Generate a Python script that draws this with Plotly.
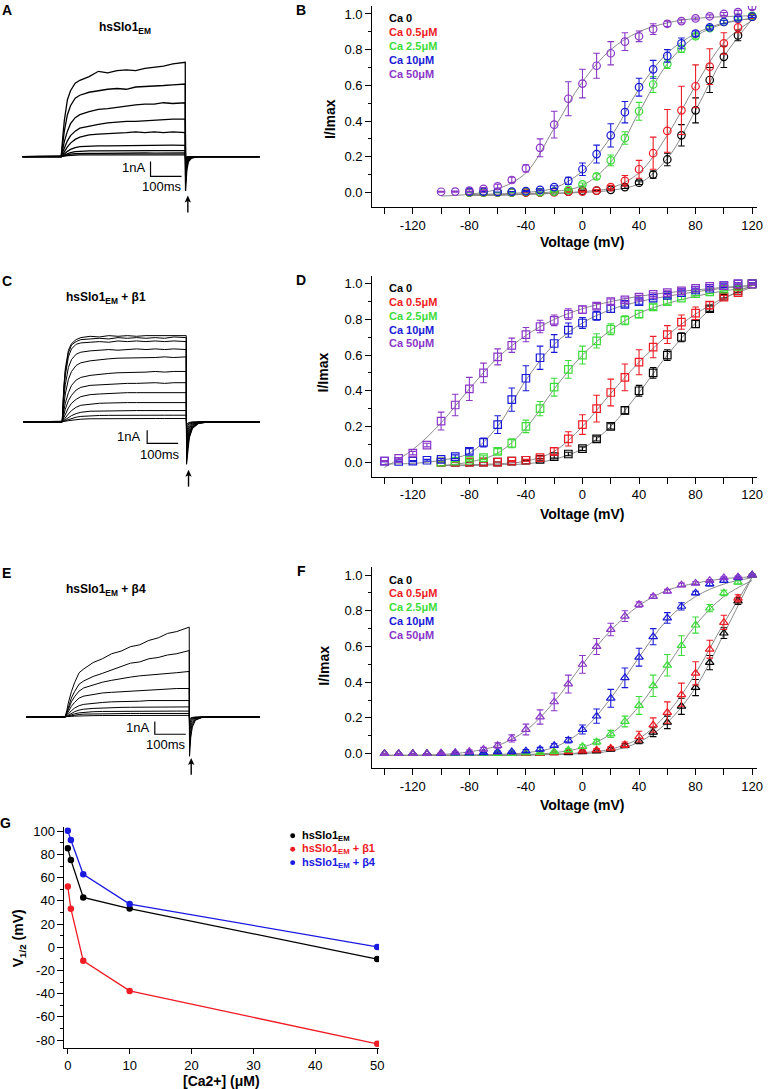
import plotly.graph_objects as go

W, H = 774, 1089
FONT = "Liberation Sans, Arial, Helvetica, sans-serif"

# ---------------- colours ----------------
ca_colors = ["#000000", "#ee1c25", "#3ddc3a", "#1a1ad6", "#8a36c8"]
fit_color = "#8a8a8a"
g_colors = ["#000000", "#ee1c25", "#1a1ae0"]

# ---------------- A, C, E : current traces (nA) ----------------
# sample times (ms); depolarising pulse from 0 to 400 ms
t_ms = [-125, 0, 5, 10, 20, 30, 45, 60, 90, 120, 150, 180, 210, 240, 270, 300, 330, 360, 400,
        401, 405, 410, 420, 440, 470, 640]

cur_A = [
    [0, 0, 1.3, 2.4, 3.8, 4.4, 4.9, 5.1, 5.35, 5.7, 5.6, 5.75, 5.8, 5.75, 5.9, 5.95, 6.05, 6.2, 6.3, -2.3, -0.9, -0.35, -0.1, 0, 0, 0],
    [0, 0, 0.9, 1.7, 2.8, 3.4, 3.9, 4.1, 4.3, 4.4, 4.5, 4.55, 4.5, 4.65, 4.7, 4.7, 4.75, 4.8, 4.85, -1.8, -0.7, -0.25, -0.08, 0, 0, 0],
    [0, 0, 0.5, 1.0, 1.7, 2.2, 2.6, 2.8, 3.0, 3.15, 3.2, 3.3, 3.35, 3.45, 3.5, 3.5, 3.6, 3.55, 3.6, -1.3, -0.5, -0.18, -0.05, 0, 0, 0],
    [0, 0, 0.3, 0.6, 1.05, 1.4, 1.7, 1.9, 2.05, 2.15, 2.25, 2.3, 2.35, 2.35, 2.4, 2.45, 2.45, 2.5, 2.5, -0.9, -0.35, -0.12, -0.04, 0, 0, 0],
    [0, 0, 0.15, 0.35, 0.65, 0.9, 1.15, 1.3, 1.45, 1.5, 1.55, 1.6, 1.6, 1.65, 1.6, 1.65, 1.6, 1.65, 1.6, -0.6, -0.22, -0.08, -0.03, 0, 0, 0],
    [0, 0, 0.08, 0.18, 0.35, 0.48, 0.6, 0.66, 0.7, 0.72, 0.72, 0.73, 0.74, 0.74, 0.75, 0.74, 0.75, 0.76, 0.75, -0.3, -0.1, -0.04, 0, 0, 0, 0],
    [0, 0, 0.04, 0.1, 0.2, 0.27, 0.33, 0.36, 0.38, 0.38, 0.39, 0.39, 0.4, 0.39, 0.4, 0.4, 0.4, 0.41, 0.4, -0.18, -0.06, -0.02, 0, 0, 0, 0],
    [0, 0, 0.02, 0.06, 0.12, 0.16, 0.19, 0.21, 0.22, 0.22, 0.23, 0.23, 0.23, 0.23, 0.24, 0.23, 0.24, 0.24, 0.24, -0.1, -0.04, -0.01, 0, 0, 0, 0],
    [0, 0, 0.01, 0.03, 0.06, 0.08, 0.1, 0.11, 0.11, 0.12, 0.12, 0.12, 0.12, 0.12, 0.12, 0.12, 0.12, 0.12, 0.12, -0.05, -0.02, 0, 0, 0, 0, 0],
]

cur_C = [
    [0, 0, 2.6, 4.0, 5.4, 5.9, 6.2, 6.35, 6.45, 6.4, 6.5, 6.45, 6.5, 6.45, 6.5, 6.5, 6.45, 6.5, 6.5, -3.2, -2.0, -1.2, -0.5, -0.12, -0.02, 0],
    [0, 0, 2.4, 3.8, 5.2, 5.8, 6.05, 6.2, 6.25, 6.3, 6.25, 6.35, 6.3, 6.35, 6.3, 6.35, 6.3, 6.4, 6.35, -3.0, -1.8, -1.1, -0.45, -0.1, -0.02, 0],
    [0, 0, 2.2, 3.5, 4.9, 5.5, 5.85, 5.95, 6.0, 6.05, 6.0, 6.1, 6.05, 6.1, 6.05, 6.1, 6.05, 6.1, 6.05, -2.8, -1.7, -1.0, -0.4, -0.1, -0.02, 0],
    [0, 0, 1.7, 2.8, 4.1, 4.7, 5.1, 5.25, 5.35, 5.4, 5.45, 5.4, 5.45, 5.5, 5.45, 5.5, 5.45, 5.5, 5.45, -2.5, -1.5, -0.9, -0.35, -0.08, -0.01, 0],
    [0, 0, 1.2, 2.1, 3.2, 3.8, 4.25, 4.45, 4.6, 4.7, 4.75, 4.8, 4.8, 4.85, 4.8, 4.85, 4.9, 4.85, 4.9, -2.2, -1.3, -0.75, -0.3, -0.07, 0, 0],
    [0, 0, 0.8, 1.4, 2.2, 2.75, 3.15, 3.35, 3.5, 3.6, 3.65, 3.7, 3.7, 3.75, 3.75, 3.8, 3.75, 3.8, 3.8, -1.8, -1.05, -0.6, -0.22, -0.05, 0, 0],
    [0, 0, 0.5, 0.95, 1.6, 2.0, 2.4, 2.6, 2.75, 2.8, 2.85, 2.9, 2.9, 2.9, 2.95, 2.95, 2.9, 2.95, 2.95, -1.4, -0.8, -0.45, -0.17, -0.04, 0, 0],
    [0, 0, 0.3, 0.6, 1.05, 1.4, 1.7, 1.9, 2.05, 2.1, 2.15, 2.15, 2.2, 2.2, 2.2, 2.2, 2.2, 2.25, 2.2, -1.1, -0.6, -0.33, -0.12, -0.03, 0, 0],
    [0, 0, 0.15, 0.32, 0.6, 0.85, 1.1, 1.25, 1.35, 1.4, 1.42, 1.45, 1.45, 1.45, 1.45, 1.45, 1.45, 1.45, 1.45, -0.8, -0.42, -0.23, -0.08, -0.02, 0, 0],
    [0, 0, 0.08, 0.17, 0.33, 0.47, 0.62, 0.72, 0.8, 0.82, 0.84, 0.85, 0.85, 0.85, 0.85, 0.85, 0.85, 0.85, 0.85, -0.5, -0.26, -0.14, -0.05, -0.01, 0, 0],
    [0, 0, 0.04, 0.09, 0.18, 0.26, 0.35, 0.41, 0.46, 0.48, 0.49, 0.5, 0.5, 0.5, 0.5, 0.5, 0.5, 0.5, 0.5, -0.3, -0.16, -0.08, -0.03, 0, 0, 0],
    [0, 0, 0.02, 0.04, 0.09, 0.13, 0.17, 0.2, 0.23, 0.24, 0.25, 0.25, 0.25, 0.25, 0.25, 0.25, 0.25, 0.25, 0.25, -0.15, -0.08, -0.04, -0.01, 0, 0, 0],
]

cur_E = [
    [0, 0, 0.5, 1.1, 2.0, 2.7, 3.5, 3.8, 4.3, 4.6, 5.0, 5.2, 5.55, 5.7, 6.05, 6.25, 6.6, 6.75, 7.1, -3.1, -1.6, -0.8, -0.25, -0.05, 0, 0],
    [0, 0, 0.35, 0.8, 1.5, 2.0, 2.6, 2.85, 3.2, 3.45, 3.7, 3.95, 4.25, 4.35, 4.6, 4.7, 4.9, 5.0, 5.25, -2.5, -1.3, -0.65, -0.2, -0.04, 0, 0],
    [0, 0, 0.3, 0.65, 1.2, 1.6, 2.05, 2.3, 2.55, 2.75, 2.9, 3.05, 3.15, 3.25, 3.3, 3.4, 3.45, 3.5, 3.6, -1.9, -1.0, -0.5, -0.15, -0.03, 0, 0],
    [0, 0, 0.2, 0.45, 0.85, 1.15, 1.5, 1.65, 1.8, 1.9, 1.95, 2.0, 2.05, 2.1, 2.15, 2.15, 2.2, 2.25, 2.25, -1.3, -0.7, -0.35, -0.1, -0.02, 0, 0],
    [0, 0, 0.1, 0.25, 0.5, 0.7, 0.9, 1.0, 1.1, 1.15, 1.2, 1.2, 1.25, 1.25, 1.3, 1.3, 1.3, 1.3, 1.3, -0.9, -0.45, -0.22, -0.07, -0.01, 0, 0],
    [0, 0, 0.06, 0.14, 0.3, 0.42, 0.55, 0.62, 0.68, 0.72, 0.74, 0.76, 0.77, 0.78, 0.78, 0.79, 0.8, 0.8, 0.8, -0.6, -0.3, -0.15, -0.05, 0, 0, 0],
    [0, 0, 0.03, 0.08, 0.17, 0.25, 0.33, 0.38, 0.42, 0.44, 0.45, 0.46, 0.46, 0.47, 0.47, 0.47, 0.47, 0.47, 0.47, -0.4, -0.2, -0.1, -0.03, 0, 0, 0],
    [0, 0, 0.02, 0.05, 0.1, 0.15, 0.2, 0.23, 0.25, 0.26, 0.27, 0.27, 0.28, 0.28, 0.28, 0.28, 0.28, 0.28, 0.28, -0.25, -0.12, -0.06, -0.02, 0, 0, 0],
    [0, 0, 0.01, 0.02, 0.05, 0.07, 0.09, 0.1, 0.11, 0.12, 0.12, 0.13, 0.13, 0.13, 0.13, 0.13, 0.13, 0.13, 0.13, -0.12, -0.06, -0.03, -0.01, 0, 0, 0],
]

bar_nA = 1      # scale bar height
bar_ms = 100    # scale bar width

# ---------------- B, D, F : normalised G-V ----------------
ca_names = ["Ca 0", "Ca 0.5μM", "Ca 2.5μM", "Ca 10μM", "Ca 50μM"]

v_B = [-100, -90, -80, -70, -60, -50, -40, -30, -20, -10, 0, 10, 20, 30, 40, 50, 60, 70, 80, 90, 100, 110, 120]
b_ca0 = [None, None, 0.0, 0.0, 0.0, 0.0, 0.0, 0.0, 0.005, 0.005, 0.01, 0.01, 0.015, 0.03, 0.055, 0.1, 0.185, 0.32, 0.46, 0.63, 0.76, 0.88, 0.985]
b_ca05 = [None, None, 0.0, 0.0, 0.0, 0.0, 0.0, 0.0, 0.0, 0.005, 0.005, 0.01, 0.03, 0.065, 0.13, 0.22, 0.345, 0.46, 0.595, 0.705, 0.835, 0.925, 0.985]
b_ca25 = [None, None, 0.0, 0.0, 0.0, 0.0, 0.005, 0.002, 0.005, 0.015, 0.045, 0.09, 0.18, 0.305, 0.455, 0.605, 0.72, 0.805, 0.875, 0.92, 0.955, 0.98, 0.99]
b_ca10 = [None, None, 0.005, 0.005, 0.003, 0.005, 0.008, 0.015, 0.03, 0.065, 0.13, 0.215, 0.32, 0.45, 0.59, 0.69, 0.765, 0.835, 0.89, 0.925, 0.955, 0.975, 0.985]
b_ca50 = [0.004, 0.005, 0.01, 0.02, 0.035, 0.07, 0.135, 0.25, 0.38, 0.525, 0.61, 0.71, 0.78, 0.845, 0.875, 0.915, 0.945, 0.96, 0.975, 0.987, 1.0, 1.01, 1.04]
b_ca0_err = [None, None, 0, 0, 0, 0, 0, 0, 0, 0, 0.003, 0.003, 0.005, 0.008, 0.01, 0.02, 0.035, 0.06, 0.07, 0.07, 0.06, 0.03, 0.01]
b_ca05_err = [None, None, 0, 0, 0, 0, 0, 0, 0, 0.003, 0.003, 0.005, 0.01, 0.03, 0.05, 0.09, 0.12, 0.135, 0.12, 0.1, 0.06, 0.03, 0.01]
b_ca25_err = [None, None, 0, 0, 0, 0, 0, 0, 0.003, 0.005, 0.008, 0.015, 0.03, 0.035, 0.05, 0.045, 0.025, 0.02, 0.015, 0.01, 0.01, 0.01, 0.01]
b_ca10_err = [None, None, 0, 0, 0, 0, 0.003, 0.005, 0.008, 0.02, 0.035, 0.05, 0.065, 0.06, 0.05, 0.05, 0.035, 0.03, 0.015, 0.01, 0.01, 0.01, 0.005]
b_ca50_err = [0.003, 0.003, 0.005, 0.008, 0.012, 0.015, 0.02, 0.05, 0.075, 0.095, 0.08, 0.07, 0.065, 0.05, 0.03, 0.03, 0.015, 0.01, 0.008, 0.008, 0.008, 0.01, 0.015]

v_DF = [-140, -130, -120, -110, -100, -90, -80, -70, -60, -50, -40, -30, -20, -10, 0, 10, 20, 30, 40, 50, 60, 70, 80, 90, 100, 110, 120]
d_ca0 = [None, None, None, None, 0.0, 0.0, 0.0, 0.0, 0.0, 0.005, 0.01, 0.015, 0.03, 0.045, 0.075, 0.13, 0.2, 0.29, 0.4, 0.5, 0.6, 0.7, 0.775, 0.86, 0.93, 0.96, 1.0]
d_ca05 = [None, None, None, None, 0.0, 0.0, 0.0, 0.0, 0.0, 0.005, 0.01, 0.025, 0.06, 0.13, 0.21, 0.3, 0.39, 0.475, 0.56, 0.645, 0.715, 0.785, 0.835, 0.88, 0.925, 0.95, 1.0]
d_ca25 = [None, None, None, None, 0.0, 0.005, 0.01, 0.025, 0.06, 0.105, 0.2, 0.3, 0.42, 0.52, 0.6, 0.68, 0.745, 0.795, 0.83, 0.87, 0.9, 0.92, 0.945, 0.955, 0.97, 0.985, 1.0]
d_ca10 = [0.005, 0.003, 0.005, 0.01, 0.015, 0.03, 0.06, 0.11, 0.21, 0.35, 0.47, 0.585, 0.665, 0.74, 0.78, 0.82, 0.86, 0.885, 0.9, 0.92, 0.935, 0.95, 0.965, 0.975, 0.99, 1.0, 1.0]
d_ca50 = [0.005, 0.02, 0.05, 0.095, 0.23, 0.32, 0.41, 0.5, 0.59, 0.655, 0.715, 0.76, 0.795, 0.83, 0.855, 0.875, 0.9, 0.91, 0.925, 0.94, 0.95, 0.96, 0.975, 0.985, 0.99, 1.0, 1.0]
d_ca0_err = [None, None, None, None, 0, 0, 0, 0, 0, 0.003, 0.003, 0.005, 0.008, 0.01, 0.01, 0.012, 0.015, 0.02, 0.03, 0.03, 0.03, 0.025, 0.02, 0.015, 0.01, 0.01, 0.005]
d_ca05_err = [None, None, None, None, 0, 0, 0, 0, 0, 0.003, 0.005, 0.008, 0.02, 0.04, 0.055, 0.075, 0.075, 0.075, 0.07, 0.06, 0.05, 0.04, 0.035, 0.02, 0.01, 0.01, 0.005]
d_ca25_err = [None, None, None, None, 0, 0.003, 0.005, 0.01, 0.015, 0.025, 0.035, 0.04, 0.05, 0.05, 0.05, 0.04, 0.03, 0.025, 0.02, 0.015, 0.015, 0.01, 0.01, 0.01, 0.01, 0.005, 0.005]
d_ca10_err = [0.003, 0.003, 0.003, 0.005, 0.005, 0.01, 0.015, 0.025, 0.05, 0.065, 0.07, 0.065, 0.05, 0.04, 0.03, 0.025, 0.02, 0.015, 0.015, 0.01, 0.01, 0.01, 0.01, 0.01, 0.01, 0.005, 0.005]
d_ca50_err = [0.003, 0.005, 0.01, 0.01, 0.05, 0.06, 0.065, 0.055, 0.045, 0.04, 0.04, 0.035, 0.03, 0.03, 0.02, 0.015, 0.015, 0.01, 0.01, 0.01, 0.01, 0.01, 0.008, 0.008, 0.005, 0.005, 0.005]

f_ca0 = [0.0, 0.0, 0.0, 0.0, 0.0, 0.0, 0.0, 0.0, 0.0, 0.0, 0.0, 0.0, 0.005, 0.005, 0.01, 0.015, 0.025, 0.045, 0.07, 0.12, 0.175, 0.265, 0.37, 0.51, 0.675, 0.855, 1.0]
f_ca05 = [0.0, 0.0, 0.0, 0.0, 0.0, 0.0, 0.0, 0.0, 0.0, 0.0, 0.0, 0.0, 0.005, 0.01, 0.015, 0.02, 0.03, 0.05, 0.095, 0.16, 0.23, 0.33, 0.45, 0.585, 0.735, 0.87, 1.0]
f_ca25 = [0.0, 0.0, 0.0, 0.0, 0.0, 0.0, 0.0, 0.0, 0.0, 0.0, 0.003, 0.005, 0.01, 0.02, 0.04, 0.065, 0.11, 0.18, 0.27, 0.38, 0.495, 0.605, 0.72, 0.815, 0.9, 0.96, 1.0]
f_ca10 = [0.0, 0.0, 0.0, 0.0, 0.0, 0.003, 0.003, 0.005, 0.01, 0.01, 0.015, 0.025, 0.045, 0.075, 0.135, 0.21, 0.31, 0.425, 0.54, 0.655, 0.76, 0.825, 0.9, 0.95, 0.97, 0.985, 1.0]
f_ca50 = [0.0, 0.0, 0.0, 0.0, 0.003, 0.007, 0.012, 0.025, 0.045, 0.085, 0.135, 0.205, 0.29, 0.39, 0.5, 0.6, 0.695, 0.77, 0.835, 0.88, 0.91, 0.945, 0.955, 0.97, 0.985, 0.99, 1.0]
f_ca0_err = [0, 0, 0, 0, 0, 0, 0, 0, 0, 0, 0, 0, 0.003, 0.003, 0.005, 0.005, 0.008, 0.012, 0.015, 0.025, 0.035, 0.045, 0.045, 0.04, 0.03, 0.02, 0.005]
f_ca05_err = [0, 0, 0, 0, 0, 0, 0, 0, 0, 0, 0, 0, 0.003, 0.005, 0.005, 0.008, 0.01, 0.015, 0.03, 0.04, 0.06, 0.065, 0.065, 0.05, 0.04, 0.02, 0.005]
f_ca25_err = [0, 0, 0, 0, 0, 0, 0, 0, 0, 0, 0.002, 0.003, 0.005, 0.008, 0.01, 0.015, 0.02, 0.03, 0.05, 0.06, 0.06, 0.055, 0.045, 0.02, 0.015, 0.01, 0.005]
f_ca10_err = [0, 0, 0, 0, 0, 0.002, 0.002, 0.003, 0.005, 0.005, 0.008, 0.01, 0.01, 0.015, 0.025, 0.04, 0.05, 0.055, 0.05, 0.045, 0.03, 0.02, 0.01, 0.01, 0.01, 0.005, 0.005]
f_ca50_err = [0.002, 0.002, 0.002, 0.002, 0.003, 0.005, 0.008, 0.01, 0.015, 0.02, 0.03, 0.04, 0.05, 0.05, 0.05, 0.045, 0.035, 0.03, 0.015, 0.01, 0.01, 0.01, 0.008, 0.005, 0.005, 0.005, 0.005]

vfit_B = [-100, -80, -60, -40, -20, 0, 20, 40, 60, 80, 100, 120]
fitb_ca0 = [None, -0.015, -0.015, -0.01, -0.005, 0.0, 0.012, 0.05, 0.19, 0.46, 0.76, 0.97]
fitb_ca05 = [None, -0.015, -0.015, -0.01, -0.005, 0.005, 0.025, 0.11, 0.32, 0.6, 0.84, 0.965]
fitb_ca25 = [None, -0.015, -0.012, -0.008, 0.005, 0.04, 0.17, 0.45, 0.72, 0.875, 0.945, 0.975]
fitb_ca10 = [None, -0.012, -0.008, 0.0, 0.025, 0.12, 0.31, 0.58, 0.78, 0.89, 0.95, 0.975]
fitb_ca50 = [-0.02, -0.01, 0.02, 0.11, 0.36, 0.62, 0.8, 0.9, 0.95, 0.975, 0.985, 0.99]

vfit_DF = [-140, -120, -100, -80, -60, -40, -20, 0, 20, 40, 60, 80, 100, 120]
fitd_ca0 = [None, None, -0.02, -0.02, -0.015, -0.01, 0.015, 0.075, 0.2, 0.39, 0.6, 0.78, 0.915, 0.99]
fitd_ca05 = [None, None, -0.02, -0.015, -0.01, 0.005, 0.06, 0.2, 0.385, 0.56, 0.71, 0.83, 0.92, 0.98]
fitd_ca25 = [None, None, -0.02, 0.0, 0.05, 0.19, 0.41, 0.6, 0.74, 0.835, 0.89, 0.93, 0.96, 0.98]
fitd_ca10 = [-0.01, -0.008, 0.01, 0.05, 0.2, 0.46, 0.66, 0.78, 0.855, 0.9, 0.93, 0.955, 0.975, 0.99]
fitd_ca50 = [-0.03, 0.07, 0.22, 0.41, 0.585, 0.71, 0.8, 0.86, 0.9, 0.93, 0.95, 0.965, 0.98, 0.99]

fitf_ca0 = [-0.01, -0.01, -0.01, -0.01, -0.01, -0.008, -0.005, 0.0, 0.015, 0.065, 0.175, 0.37, 0.67, 0.99]
fitf_ca05 = [-0.01, -0.01, -0.01, -0.01, -0.01, -0.008, -0.003, 0.005, 0.025, 0.085, 0.225, 0.45, 0.73, 0.99]
fitf_ca25 = [-0.01, -0.01, -0.01, -0.01, -0.008, -0.005, 0.005, 0.035, 0.11, 0.265, 0.49, 0.72, 0.88, 0.97]
fitf_ca10 = [-0.01, -0.01, -0.01, -0.008, -0.005, 0.005, 0.035, 0.13, 0.31, 0.54, 0.75, 0.88, 0.95, 0.985]
fitf_ca50 = [-0.01, -0.01, -0.005, 0.01, 0.045, 0.13, 0.29, 0.5, 0.69, 0.83, 0.915, 0.955, 0.98, 0.99]

v_tickvals = [-120, -80, -40, 0, 40, 80, 120]
v_ticktext = ["-120", "-80", "-40", "0", "40", "80", "120"]
v_minor = [-140, -100, -60, -20, 20, 60, 100]
gv_tickvals = [0, 0.2, 0.4, 0.6, 0.8, 1.0]
gv_ticktext = ["0.0", "0.2", "0.4", "0.6", "0.8", "1.0"]
gv_minor = [0.1, 0.3, 0.5, 0.7, 0.9]

# ---------------- G : V1/2 vs [Ca2+] ----------------
ca_uM = [0, 0.5, 2.5, 10, 50]
vhalf_em = [85.4, 75.4, 43, 33.4, -10.1]
vhalf_b1 = [52.5, 33.3, -11.7, -37.6, -83.2]
vhalf_b4 = [100.6, 92.6, 63, 37.3, 0.3]
g_names = ["hsSlo1<sub>EM</sub>", "hsSlo1<sub>EM</sub> + β1", "hsSlo1<sub>EM</sub> + β4"]
g_xticks = [0, 10, 20, 30, 40, 50]
g_yticks = [-80, -60, -40, -20, 0, 20, 40, 60, 80, 100]
g_yticktext = ["-80", "-60", "-40", "-20", "0", "20", "40", "60", "80", "100"]
g_yminor = [-70, -50, -30, -10, 10, 30, 50, 70, 90]


# ---------------- helpers ----------------
def fx(x):
    return x / W


def fy(y):
    return 1 - y / H


def ax_names(n):
    return ("xaxis" if n == 1 else f"xaxis{n}", "yaxis" if n == 1 else f"yaxis{n}",
            "x" if n == 1 else f"x{n}", "y" if n == 1 else f"y{n}")


fig = go.Figure()
layout = {}
ann = []
shapes = []

PX_PER_MS = 125 / 400.0

# current-trace panels
cur_panels = [
    # axis, pulse x, baseline y, px/nA, top, bottom, traces, lw, bar corner, title, title y, letter y, arrow, 1nA lbl, 100ms lbl
    (1, 61.7, 154, 15.0, 30, 215, cur_A, 1.3, (288, -1.33), "hsSlo1<sub>EM</sub>", 25, 7, (189.3, 193),
     (148, 165), (163, 184)),
    (3, 62.7, 420, 13.3, 320, 500, cur_C, 1.0, (274, -1.63), "hsSlo1<sub>EM</sub> + β1", 296, 279, (190, 468),
     (143, 435), (161, 453)),
    (5, 65.7, 716, 12.7, 610, 790, cur_E, 1.0, (289, -1.36), "hsSlo1<sub>EM</sub> + β4", 589, 572, (192.7, 757),
     (152, 727), (167.5, 744)),
]
for (n, x0, base, ppn, top, bot, curs, lw, bar, title, ty, ly, arrow, lbl1, lbl2) in cur_panels:
    xk, yk, xr, yr = ax_names(n)
    layout[xk] = dict(domain=[fx(0), fx(262)], range=[(0 - x0) / PX_PER_MS, (262 - x0) / PX_PER_MS],
                      visible=False, anchor=yr)
    layout[yk] = dict(domain=[fy(bot), fy(top)], range=[(base - bot) / ppn, (base - top) / ppn],
                      visible=False, anchor=xr)
    for c in curs:
        assert len(c) == len(t_ms)
        fig.add_trace(go.Scatter(x=t_ms, y=c, mode="lines", line=dict(color="black", width=lw),
                                 xaxis=xr, yaxis=yr, hoverinfo="skip"))
    bt, bi = bar
    fig.add_trace(go.Scatter(x=[bt, bt, bt + bar_ms], y=[bi + bar_nA, bi, bi], mode="lines",
                             line=dict(color="black", width=1.2), xaxis=xr, yaxis=yr, hoverinfo="skip"))
    ann.append(dict(text="1nA", x=fx(lbl1[0]), y=fy(lbl1[1]), xanchor="right", yanchor="middle",
                    font=dict(size=13)))
    ann.append(dict(text="100ms", x=fx(lbl2[0]), y=fy(lbl2[1]), xanchor="center", yanchor="middle",
                    font=dict(size=13)))
    ann.append(dict(text=f"<b>{title}</b>", x=fx(107 if n > 1 else 126), y=fy(ty), xanchor="center",
                    yanchor="middle", font=dict(size=12)))
    ann.append(dict(text="<b>" + "ACE"[(n - 1) // 2] + "</b>", x=fx(7), y=fy(ly), xanchor="center",
                    yanchor="middle", font=dict(size=14)))
    # arrow marking the tail current
    axp, ayp = arrow
    shapes.append(dict(type="line", xref="paper", yref="paper", x0=fx(axp), x1=fx(axp),
                       y0=fy(ayp + 4), y1=fy(ayp + 17), line=dict(color="black", width=1.4)))
    shapes.append(dict(type="path", xref="paper", yref="paper", fillcolor="black", line=dict(width=0),
                       path=f"M {fx(axp)} {fy(ayp)} L {fx(axp - 3.2)} {fy(ayp + 7)} "
                            f"L {fx(axp)} {fy(ayp + 5.5)} L {fx(axp + 3.2)} {fy(ayp + 7)} Z"))

# G-V panels
gv_panels = [
    (2, 3, 205, 190, 179.0, "B", v_B, [b_ca0, b_ca05, b_ca25, b_ca10, b_ca50],
     [b_ca0_err, b_ca05_err, b_ca25_err, b_ca10_err, b_ca50_err], vfit_B,
     [fitb_ca0, fitb_ca05, fitb_ca25, fitb_ca10, fitb_ca50], "circle-open", 332, 116, 240),
    (4, 273.5, 475, 460.3, 178.75, "D", v_DF, [d_ca0, d_ca05, d_ca25, d_ca10, d_ca50],
     [d_ca0_err, d_ca05_err, d_ca25_err, d_ca10_err, d_ca50_err], vfit_DF,
     [fitd_ca0, fitd_ca05, fitd_ca25, fitd_ca10, fitd_ca50], "square-open", 326, 370, 512),
    (6, 565.6, 767.3, 752.7, 179.0, "F", v_DF, [f_ca0, f_ca05, f_ca25, f_ca10, f_ca50],
     [f_ca0_err, f_ca05_err, f_ca25_err, f_ca10_err, f_ca50_err], vfit_DF,
     [fitf_ca0, fitf_ca05, fitf_ca25, fitf_ca10, fitf_ca50], "triangle-up-open", 327, 664, 804),
]
axis_style = dict(showline=True, linecolor="black", linewidth=1, ticks="outside", ticklen=6, tickwidth=1,
                  tickcolor="black", showgrid=False, zeroline=False, tickfont=dict(size=13))
for (n, top, bot, zero_y, ppu, letter, vv, series, errs, vfit, fits, sym, ytx, yty, xty) in gv_panels:
    xk, yk, xr, yr = ax_names(n)
    layout[xk] = dict(domain=[fx(375), fx(763)], range=[-148.8, 123.5], anchor=yr, tickmode="array",
                      tickvals=v_tickvals, ticktext=v_ticktext, ticklabelstandoff=0,
                      minor=dict(tickmode="array", tickvals=v_minor, ticks="outside", ticklen=6,
                                 tickwidth=1, tickcolor="black", showgrid=False),
                      **axis_style)
    layout[yk] = dict(domain=[fy(bot), fy(top)], range=[(zero_y - bot) / ppu, (zero_y - top) / ppu],
                      anchor=xr, tickmode="array", tickvals=gv_tickvals, ticktext=gv_ticktext,
                      minor=dict(tickmode="array", tickvals=gv_minor, ticks="outside", ticklen=3,
                                 tickwidth=1, tickcolor="black", showgrid=False),
                      **axis_style)
    for f in fits:
        fig.add_trace(go.Scatter(x=vfit, y=f, mode="lines", line=dict(color=fit_color, width=1, shape="spline"),
                                 xaxis=xr, yaxis=yr, hoverinfo="skip"))
    for s, e, col in zip(series, errs, ca_colors):
        assert len(s) == len(vv) == len(e)
        fig.add_trace(go.Scatter(x=vv, y=s, mode="markers", xaxis=xr, yaxis=yr,
                                 marker=dict(symbol=sym, size=7.5, color=col, line=dict(width=1.2, color=col)),
                                 error_y=dict(type="data", array=e, color=col, thickness=1.1, width=3.3)))
    top_lbl = zero_y - ppu * 1.0
    for i, (nm, col) in enumerate(zip(ca_names, ca_colors)):
        ann.append(dict(text=f"<b>{nm}</b>", x=fx(390), y=fy(top_lbl + 4.5 + 13.8 * i), xanchor="left",
                        yanchor="middle", font=dict(size=11, color=col)))
    ann.append(dict(text=f"<b>{letter}</b>", x=fx(303.5), y=fy(top_lbl - 4), xanchor="center", yanchor="middle",
                    font=dict(size=14)))
    ann.append(dict(text="<b>I/Imax</b>", x=fx(ytx), y=fy(yty), textangle=-90, xanchor="center",
                    yanchor="middle", font=dict(size=14)))
    ann.append(dict(text="<b>Voltage (mV)</b>", x=fx(587), y=fy(xty), xanchor="center", yanchor="middle",
                    font=dict(size=14)))

# G panel
xk, yk, xr, yr = ax_names(7)
layout[xk] = dict(domain=[fx(65), fx(382)], range=[-0.53, 50.3], anchor=yr, tickmode="array",
                  tickvals=g_xticks, ticklabelstandoff=0, **dict(axis_style, ticklen=5))
layout[yk] = dict(domain=[fy(1048.3), fy(826)], range=[-87.2, 104.0], anchor=xr, tickmode="array",
                  tickvals=g_yticks, ticktext=g_yticktext,
                  minor=dict(tickmode="array", tickvals=g_yminor, ticks="outside", ticklen=3, tickwidth=1,
                             tickcolor="black", showgrid=False),
                  **axis_style)
for vals, col in zip([vhalf_em, vhalf_b1, vhalf_b4], g_colors):
    fig.add_trace(go.Scatter(x=ca_uM, y=vals, mode="lines+markers", xaxis=xr, yaxis=yr,
                             line=dict(color=col, width=1.3), marker=dict(color=col, size=6.5)))
for i, (nm, col) in enumerate(zip(g_names, g_colors)):
    cy = 835 + 13.5 * i
    shapes.append(dict(type="circle", xref="paper", yref="paper", x0=fx(292.5), x1=fx(297.5),
                       y0=fy(cy + 2.5), y1=fy(cy - 2.5), fillcolor=col, line=dict(width=0)))
    ann.append(dict(text=f"<b>{nm}</b>", x=fx(302), y=fy(cy), xanchor="left", yanchor="middle",
                    font=dict(size=11, color=col)))
ann.append(dict(text="<b>G</b>", x=fx(6), y=fy(822), xanchor="center", yanchor="middle", font=dict(size=14)))
ann.append(dict(text="<b>V<sub>1/2</sub> (mV)</b>", x=fx(20), y=fy(938), textangle=-90, xanchor="center",
                yanchor="middle", font=dict(size=14)))
ann.append(dict(text="<b>[Ca2+] (μM)</b>", x=fx(223), y=fy(1081), xanchor="center", yanchor="middle",
                font=dict(size=14)))

for a in ann:
    a.setdefault("xref", "paper")
    a.setdefault("yref", "paper")
    a.setdefault("showarrow", False)

fig.update_layout(width=W, height=H, margin=dict(l=0, r=0, t=0, b=0), paper_bgcolor="white",
                  plot_bgcolor="white", showlegend=False, annotations=ann, shapes=shapes,
                  font=dict(family=FONT, color="black", size=12), **layout)

# drop the browser's default page margin so the figure sits at the window origin
fig.write_html("out.html", config={"displayModeBar": False},
               post_script="document.body.style.margin='0px';document.body.style.overflow='hidden';")
